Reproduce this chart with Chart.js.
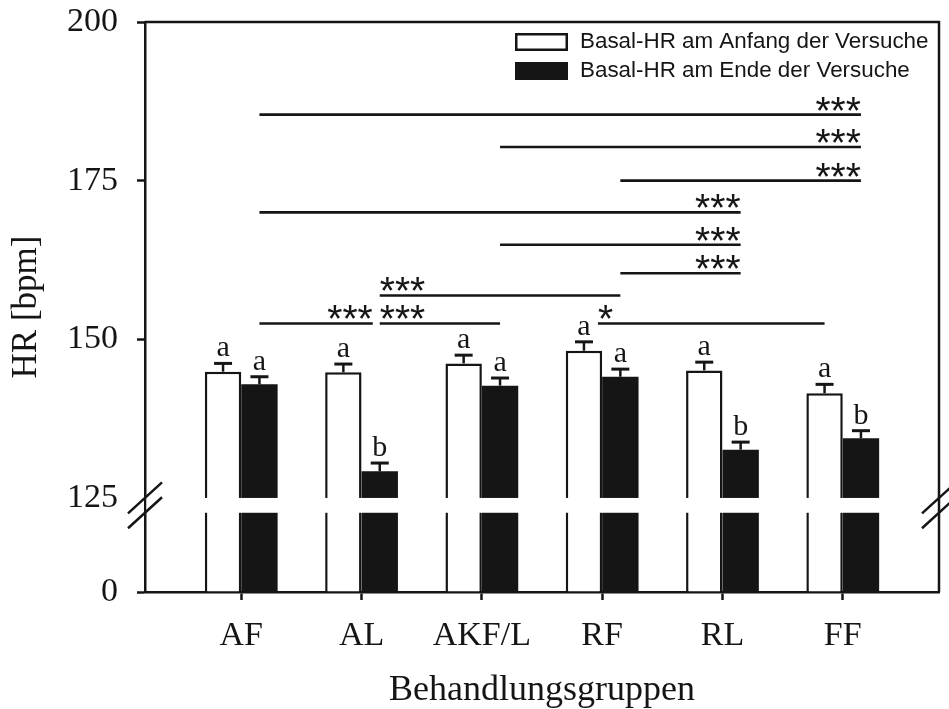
<!DOCTYPE html>
<html lang="de">
<head>
<meta charset="utf-8">
<title>Basal-HR</title>
<script src="https://cdn.jsdelivr.net/npm/chart.js@4.4.1/dist/chart.umd.min.js"></script>
<style>
  html, body { margin: 0; padding: 0; background: #fff; }
  #wrap { width: 949px; height: 709px; }
</style>
</head>
<body>
<div id="wrap"><canvas id="hrChart"></canvas></div>
<script>
// Treatment groups and basal heart rate (bpm) at start / end of the trials
const groups = ['AF', 'AL', 'AKF/L', 'RF', 'RL', 'FF'];
const hrStart = [144.9, 144.8, 146.2, 148.2, 145.1, 141.5];
const hrEnd = [142.9, 129.2, 142.7, 144.1, 132.6, 134.4];
const semStart = [1.3, 1.3, 1.3, 1.4, 1.3, 1.4];
const semEnd = [1.2, 1.3, 1.2, 1.2, 1.2, 1.2];
const lettersStart = ['a', 'a', 'a', 'a', 'a', 'a'];
const lettersEnd = ['a', 'b', 'a', 'a', 'b', 'b'];
const yTicks = [0, 125, 150, 175, 200];

// Significance lines: [group, series] at each end, height in bpm
const brackets = [
  { from: [0, 1], to: [5, 1], hr: 185.4, mark: '***', side: 'end' },
  { from: [2, 1], to: [5, 1], hr: 180.3, mark: '***', side: 'end' },
  { from: [3, 1], to: [5, 1], hr: 175.0, mark: '***', side: 'end' },
  { from: [0, 1], to: [4, 1], hr: 170.0, mark: '***', side: 'end' },
  { from: [2, 1], to: [4, 1], hr: 164.9, mark: '***', side: 'end' },
  { from: [3, 1], to: [4, 1], hr: 160.4, mark: '***', side: 'end' },
  { from: [1, 1], to: [3, 1], hr: 156.9, mark: '***', side: 'start' },
  { from: [0, 1], to: [1, 1], hr: 152.5, mark: '***', side: 'end', trimEnd: 7 },
  { from: [1, 1], to: [2, 1], hr: 152.5, mark: '***', side: 'start' },
  { from: [3, 0], to: [5, 0], hr: 152.5, mark: '*', side: 'start', trimStart: 14 }
];

const ink = '#151515';
const serif = "'Liberation Serif', 'Times New Roman', serif";
const sans = "'Liberation Sans', Arial, sans-serif";

// y axis with a break: 0-125 in a short bottom strip, 125-200 above it
const AXIS_BREAK = { at: 125, lowerShare: 0.139, gapShare: 0.026 };

class BrokenLinearScale extends Chart.LinearScale {
  getPixelForValue(value) {
    if (value === null || value === undefined || isNaN(value)) return NaN;
    const { at, lowerShare, gapShare } = AXIS_BREAK;
    let dec;
    if (value <= at) {
      dec = (value - this.min) / (at - this.min) * lowerShare;
    } else {
      dec = lowerShare + gapShare + (value - at) / (this.max - at) * (1 - lowerShare - gapShare);
    }
    return this.getPixelForDecimal(dec);
  }
  getPixelForTick(index) {
    const tick = this.ticks[index];
    if (!tick) return null;
    if (tick.value === AXIS_BREAK.at) {
      return this.getPixelForDecimal(AXIS_BREAK.lowerShare + AXIS_BREAK.gapShare);
    }
    return this.getPixelForValue(tick.value);
  }
}
BrokenLinearScale.id = 'brokenLinear';
BrokenLinearScale.defaults = {};
Chart.register(BrokenLinearScale);

// error bars, letters, axis break, frame, significance lines, legend
const figureExtras = {
  id: 'figureExtras',
  afterDatasetsDraw(chart) {
    const { ctx, chartArea: area, scales: { y } } = chart;
    ctx.save();
    ctx.strokeStyle = ink;
    ctx.fillStyle = ink;

    chart.data.datasets.forEach((ds, di) => {
      chart.getDatasetMeta(di).data.forEach((bar, i) => {
        const v = ds.data[i].y;
        const top = y.getPixelForValue(v);
        const cap = y.getPixelForValue(v + ds.sem[i]);
        ctx.lineWidth = 2.5;
        ctx.beginPath();
        ctx.moveTo(bar.x, top);
        ctx.lineTo(bar.x, cap);
        ctx.stroke();
        ctx.lineWidth = 3;
        ctx.beginPath();
        ctx.moveTo(bar.x - 9, cap);
        ctx.lineTo(bar.x + 9, cap);
        ctx.stroke();
        ctx.font = '30px ' + serif;
        ctx.textAlign = 'center';
        ctx.textBaseline = 'alphabetic';
        ctx.fillText(ds.letters[i], bar.x, cap - 7);
      });
    });

    // blank strip across the bars at the break
    const gapTop = y.getPixelForDecimal(AXIS_BREAK.lowerShare + AXIS_BREAK.gapShare);
    const gapBottom = y.getPixelForDecimal(AXIS_BREAK.lowerShare);
    ctx.fillStyle = '#fff';
    ctx.fillRect(area.left + 1.5, gapTop, area.right - area.left - 3, gapBottom - gapTop);
    ctx.fillStyle = ink;

    // frame: top and right
    ctx.lineWidth = 2.5;
    ctx.beginPath();
    ctx.moveTo(area.left, area.top);
    ctx.lineTo(area.right, area.top);
    ctx.lineTo(area.right, area.bottom);
    ctx.stroke();

    // break marks on both vertical axes
    [area.left, area.right].forEach(ax => {
      [gapTop, gapBottom].forEach(gy => {
        ctx.beginPath();
        ctx.moveTo(ax - 17, gy + 15.5);
        ctx.lineTo(ax + 17, gy - 15.5);
        ctx.stroke();
      });
    });

    // significance lines
    const starSize = 39;
    brackets.forEach(b => {
      const x1 = chart.getDatasetMeta(b.from[1]).data[b.from[0]].x + (b.trimStart || 0);
      const x2 = chart.getDatasetMeta(b.to[1]).data[b.to[0]].x - (b.trimEnd || 0);
      const ly = y.getPixelForValue(b.hr);
      ctx.lineWidth = 2.6;
      ctx.beginPath();
      ctx.moveTo(x1, ly);
      ctx.lineTo(x2, ly);
      ctx.stroke();
      ctx.font = starSize + 'px ' + sans;
      ctx.textBaseline = 'alphabetic';
      const base = ly + 0.23 * starSize;
      if (b.side === 'start') {
        ctx.textAlign = 'left';
        ctx.fillText(b.mark, x1, base);
      } else {
        ctx.textAlign = 'right';
        ctx.fillText(b.mark, x2, base);
      }
    });

    // legend, top right inside the frame
    const lx = area.right - 424;
    const rows = [area.top + 11, area.top + 40];
    chart.data.datasets.forEach((ds, di) => {
      const by = rows[di];
      ctx.fillStyle = ds.backgroundColor;
      ctx.fillRect(lx, by, 53, 18);
      if (ds.borderWidth) {
        ctx.lineWidth = 2.5;
        ctx.strokeStyle = ds.borderColor;
        ctx.strokeRect(lx + 1.25, by + 1.25, 50.5, 15.5);
      }
      ctx.fillStyle = ink;
      ctx.font = '22.4px ' + sans;
      ctx.textAlign = 'left';
      ctx.textBaseline = 'middle';
      ctx.fillText(ds.label, lx + 65, by + 9);
    });
    ctx.restore();
  }
};

Chart.defaults.color = ink;
Chart.defaults.font.family = serif;

new Chart(document.getElementById('hrChart'), {
  type: 'bar',
  data: {
    datasets: [
      {
        label: 'Basal-HR am Anfang der Versuche',
        data: hrStart.map((v, i) => ({ x: i, y: v })),
        backgroundColor: '#ffffff',
        borderColor: ink,
        borderWidth: 2.5,
        sem: semStart,
        letters: lettersStart
      },
      {
        label: 'Basal-HR am Ende der Versuche',
        data: hrEnd.map((v, i) => ({ x: i, y: v })),
        backgroundColor: ink,
        borderColor: ink,
        borderWidth: 0,
        sem: semEnd,
        letters: lettersEnd
      }
    ]
  },
  options: {
    responsive: true,
    maintainAspectRatio: false,
    animation: false,
    events: [],
    datasets: {
      bar: { categoryPercentage: 0.605, barPercentage: 1 }
    },
    layout: { padding: { top: 22, right: 10, left: 0, bottom: 0 } },
    plugins: {
      legend: { display: false },
      tooltip: { enabled: false }
    },
    scales: {
      x: {
        type: 'linear',
        min: -0.8,
        max: 5.8,
        offset: false,
        afterBuildTicks: s => { s.ticks = groups.map((g, i) => ({ value: i })); },
        afterFit: s => { s.height = 117; s.paddingLeft = 0; s.paddingRight = 0; },
        grid: { offset: false, drawOnChartArea: false, tickLength: 8, tickWidth: 2.5, tickColor: ink },
        border: { color: ink, width: 2.5 },
        ticks: {
          autoSkip: false,
          maxRotation: 0,
          padding: 16,
          font: { size: 34 },
          callback: (v, i) => groups[i]
        },
        title: {
          display: true,
          text: 'Behandlungsgruppen',
          font: { size: 36, lineHeight: 1 },
          padding: { top: 0, bottom: 0 }
        }
      },
      y: {
        type: 'brokenLinear',
        min: 0,
        max: 200,
        afterBuildTicks: s => { s.ticks = yTicks.map(v => ({ value: v })); },
        afterFit: s => { s.width = 145; s.paddingTop = 0; s.paddingBottom = 0; },
        grid: {
          drawOnChartArea: false,
          tickLength: 8,
          tickWidth: 2.5,
          tickColor: c => (c.tick && c.tick.value === AXIS_BREAK.at ? 'rgba(0,0,0,0)' : ink)
        },
        border: { color: ink, width: 2.5 },
        ticks: { autoSkip: false, padding: 19, font: { size: 34 } },
        title: {
          display: true,
          text: 'HR [bpm]',
          font: { size: 35, lineHeight: 1.2 },
          padding: { top: 6, bottom: 0 }
        }
      }
    }
  },
  plugins: [figureExtras]
});
</script>
</body>
</html>
